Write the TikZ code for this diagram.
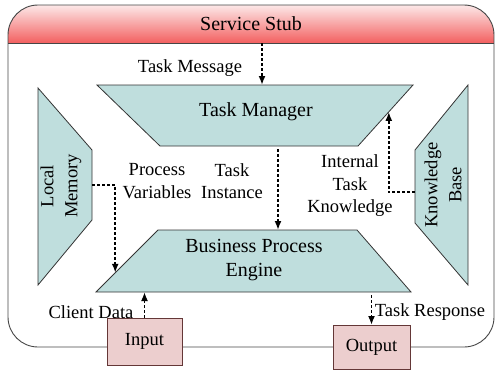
\documentclass[tikz,border=0pt]{standalone}
\usepackage{fontspec}
\setmainfont{Liberation Serif}
\usetikzlibrary{arrows.meta, positioning, calc}
\definecolor{enginefill}{RGB}{191, 222, 221}
\definecolor{iofill}{RGB}{236, 206, 206}
\definecolor{ioborder}{RGB}{100, 55, 55}
\definecolor{stubtop}{RGB}{252, 232, 232}
\definecolor{stubbottom}{RGB}{243, 96, 96}
\definecolor{framecol}{RGB}{70, 70, 70}

\begin{document}
\begin{tikzpicture}[
    x=1pt, y=-1pt,
    flowarrow/.style={-{Latex[length=9pt, width=7pt]}, line width=1.8pt,
                      dash pattern=on 3pt off 2pt},
    labeltext/.style={font=\fontsize{18.5}{22.5}\selectfont, align=center, inner sep=0pt},
    module/.style={draw=black!80, fill=enginefill, line width=0.8pt},
    moduletext/.style={align=center, inner sep=0pt, font=\fontsize{20}{24}\selectfont},
    sidetext/.style={align=center, inner sep=0pt, rotate=90,
                     font=\fontsize{18.5}{24}\selectfont},
    iobox/.style={rectangle, draw=ioborder, fill=iofill, line width=0.8pt,
                  outer sep=0pt, font=\fontsize{18.5}{22}\selectfont},
]
\useasboundingbox (0,0) rectangle (495,370);

% ============================================================
% SERVICE STUB FRAME
% ============================================================
\begin{scope}
  \clip[rounded corners=30pt] (8,5) rectangle (494,347);
  \shade[top color=stubtop, bottom color=stubbottom] (8,5) rectangle (494,43);
\end{scope}
\draw[framecol, line width=0.9pt] (8,43) -- (494,43);
\draw[framecol, line width=0.9pt, rounded corners=30pt] (8,5) rectangle (494,347);
\node[font=\fontsize{20}{24}\selectfont, minimum height=38pt, inner sep=0pt]
    (stub) at (251,24) {Service Stub};

% ============================================================
% MODULE CORNERS
% ============================================================
\coordinate (tm-nw) at (97,85);   \coordinate (tm-ne) at (413,85);
\coordinate (tm-se) at (358,146); \coordinate (tm-sw) at (160,146);

\coordinate (bpe-nw) at (158,230); \coordinate (bpe-ne) at (357,230);
\coordinate (bpe-se) at (411,292); \coordinate (bpe-sw) at (96,292);

\coordinate (lm-nw) at (38,88);  \coordinate (lm-ne) at (92,150);
\coordinate (lm-se) at (92,220); \coordinate (lm-sw) at (38,285);

\coordinate (kb-ne) at (468,85);  \coordinate (kb-nw) at (415,150);
\coordinate (kb-sw) at (415,223); \coordinate (kb-se) at (468,285);

% ============================================================
% MODULES
% ============================================================
\draw[module] (tm-nw) -- (tm-ne) -- (tm-se) -- (tm-sw) -- cycle;
\draw[module] (bpe-nw) -- (bpe-ne) -- (bpe-se) -- (bpe-sw) -- cycle;
\draw[module] (lm-nw) -- (lm-ne) -- (lm-se) -- (lm-sw) -- cycle;
\draw[module] (kb-ne) -- (kb-nw) -- (kb-sw) -- (kb-se) -- cycle;

\node[moduletext] (tm) at (256,112) {Task Manager};
\node[moduletext] (bpe) at (254,260) {Business Process\\Engine};
\node[sidetext] (lm) at (61,186) {Local\\Memory};
\node[sidetext] (kb) at (443,185) {Knowledge\\Base};

% input / output ports sit on the frame
\node[iobox, minimum width=75pt, minimum height=47pt] (inp) at (144.5,341.5) {Input};
\node[iobox, minimum width=77pt, minimum height=44pt] (outp) at (371.5,347) {Output};

% ============================================================
% LABELS
% ============================================================
\node[labeltext] (msg) at (190,68) {Task Message};
\node[labeltext] (pvar) at (157,181) {Process\\Variables};
\node[labeltext] (inst) at (232,181) {Task\\Instance};
\node[labeltext] (itk) at (350,186) {Internal\\Task\\Knowledge};
\node[labeltext] (cdata) at (91,312) {Client Data};
\node[labeltext] (tresp) at (430,312) {Task Response};

% ============================================================
% DATA FLOWS
% ============================================================
\coordinate (msgx) at (262,0);
\coordinate (instx) at (278,0);
\draw[flowarrow] (stub.south -| msgx) -- (msgx |- tm-nw);
\draw[flowarrow, shorten <=3pt] (instx |- tm-sw) -- (instx |- bpe-nw);

\draw[flowarrow] ($(lm-ne)!0.5!(lm-se)$) -| ($(bpe-nw)!0.69!(bpe-sw)$);
\draw[flowarrow] ($(kb-nw)!0.58!(kb-sw)$) -| ($(tm-ne)!0.44!(tm-se)$);

\draw[flowarrow] (inp.north) -- (inp.north |- bpe-sw);
\draw[flowarrow, shorten <=3pt] (outp.north |- bpe-sw) -- (outp.north);

\end{tikzpicture}
\end{document}
